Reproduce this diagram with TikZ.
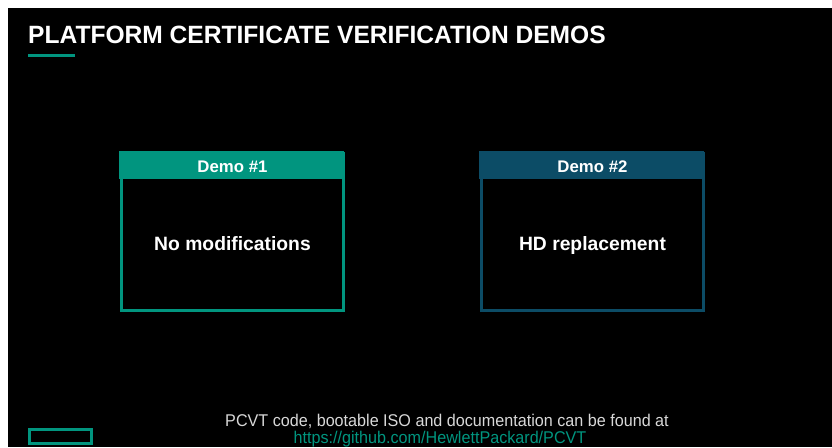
\documentclass[tikz,border=0pt]{standalone}
\usepackage{fontspec}
\setmainfont{Liberation Sans}
\definecolor{hpegreen}{HTML}{01957F}
\definecolor{hpeblue}{HTML}{0C4C66}
\definecolor{foot}{HTML}{D8D8D8}
\begin{document}
\begin{tikzpicture}[x=1pt,y=-1pt,
  demobox/.style={draw, line width=3pt, minimum width=222pt, minimum height=157pt, inner sep=0pt},
  demohead/.style={anchor=base, inner sep=0pt, text=white, font=\bfseries\fontsize{16.8}{20}\selectfont},
  demotext/.style={anchor=base, inner sep=0pt, text=white, font=\bfseries\fontsize{19.3}{23}\selectfont},
  foottext/.style={anchor=base, inner sep=0pt, font=\fontsize{17}{20}\selectfont, xscale=0.95, transform shape}]
\useasboundingbox (0,0) rectangle (832,447);
\fill[white] (0,0) rectangle (832,447);
\fill[black] (8,8) rectangle (832,447);
% title
\node[anchor=base west, inner sep=0pt, text=white, font=\bfseries\fontsize{25}{30}\selectfont, xscale=0.983, transform shape] (title) at (28,43) {PLATFORM CERTIFICATE VERIFICATION DEMOS};
\fill[hpegreen] (28,54) rectangle (75,57) coordinate (bar);
% demo 1
\node[demobox, draw=hpegreen] (box1) at (232.5,232) {};
\fill[hpegreen] (box1.north west) ++(-1.5,-1.5) rectangle ++(225,28.5);
\node[demohead] (h1) at (232.5,172) {Demo \#1};
\node[demotext] (t1) at (232.5,250) {No modifications};
% demo 2
\node[demobox, draw=hpeblue] (box2) at (592.5,232) {};
\fill[hpeblue] (box2.north west) ++(-1.5,-1.5) rectangle ++(225,28.5);
\node[demohead] (h2) at (592.5,172) {Demo \#2};
\node[demotext] (t2) at (592.5,250) {HD replacement};
% footer
\node[foottext, text=foot] (f1) at (447,426) {PCVT code, bootable ISO and documentation can be found at};
\node[foottext, text=hpegreen] (f2) at (440,443) {https://github.com/HewlettPackard/PCVT};
\draw[hpegreen, line width=3pt] (29.5,429.5) rectangle (91.5,443.5) coordinate (logo);
\end{tikzpicture}
\end{document}
